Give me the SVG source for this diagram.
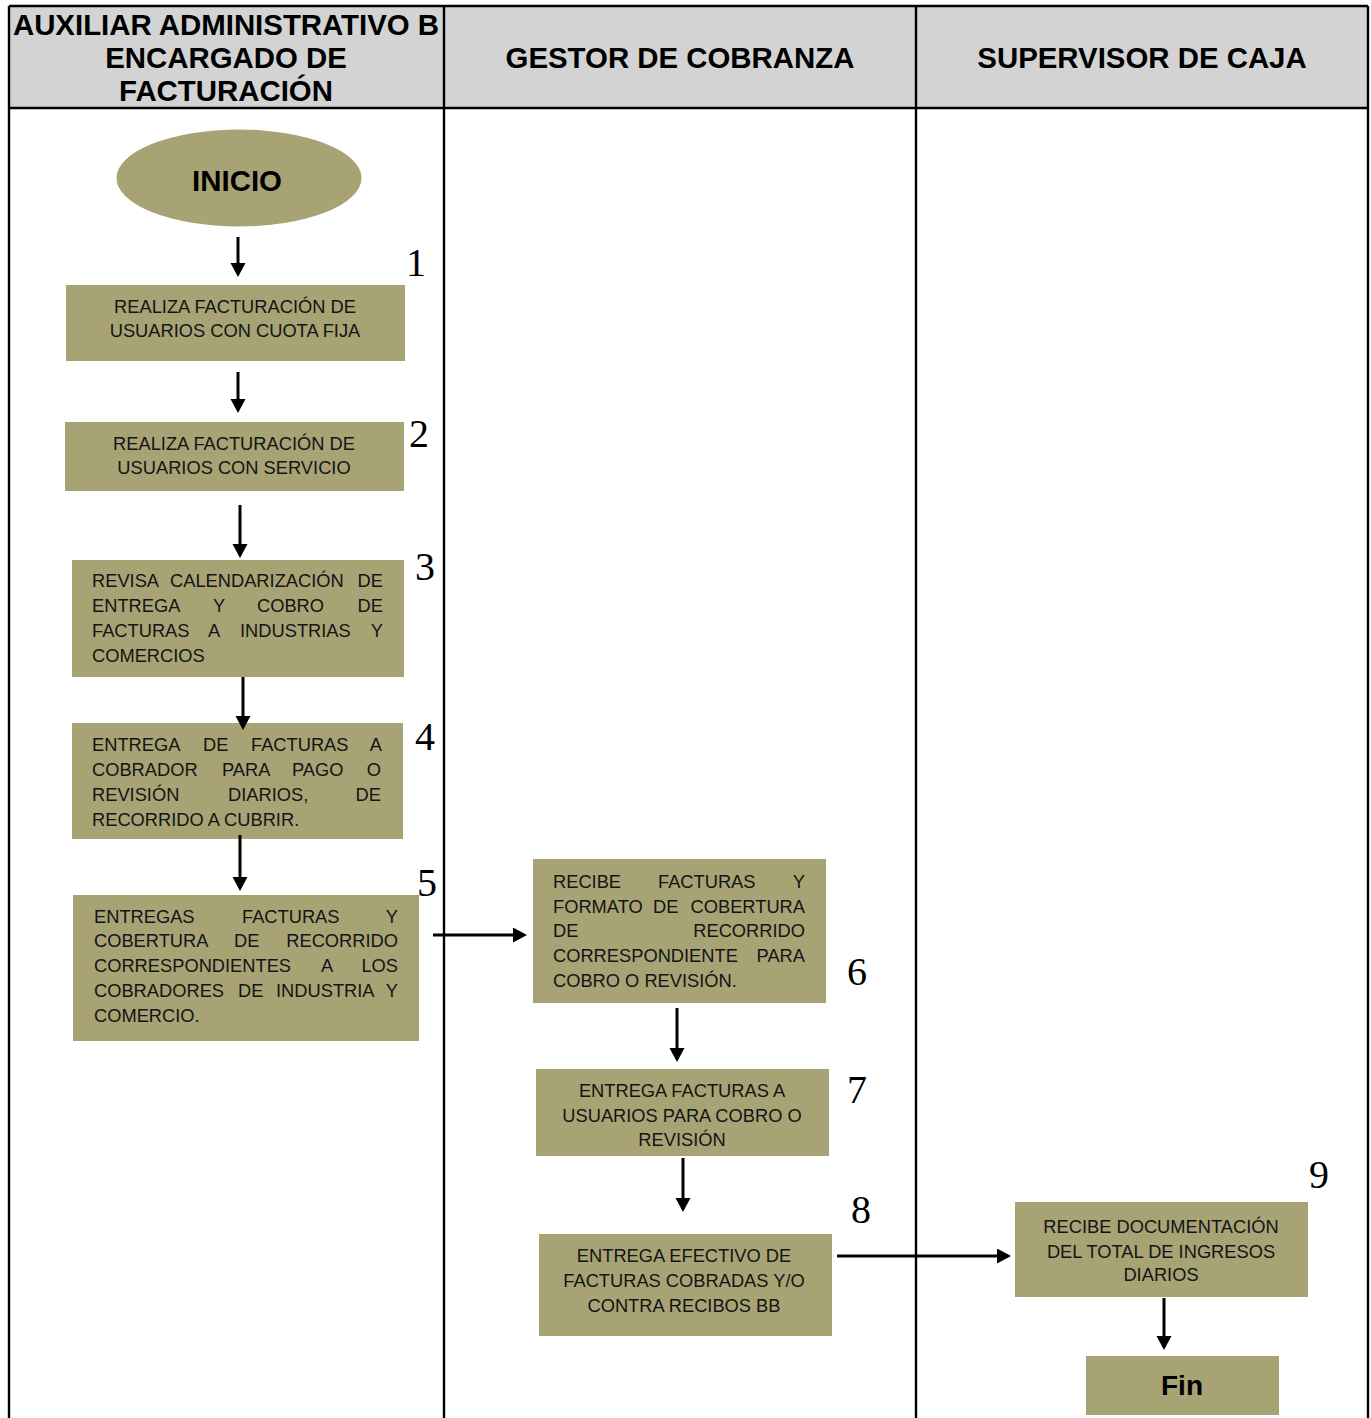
<svg xmlns="http://www.w3.org/2000/svg" width="1371" height="1418" viewBox="0 0 1371 1418">
<defs>
<style>
.box{fill:#a7a375}
.t{font-family:"Liberation Sans",Arial,sans-serif;font-size:18.3px;fill:#141414}
.c{text-anchor:middle}
.e{text-anchor:end}
.h{font-family:"Liberation Sans",Arial,sans-serif;font-size:29.4px;font-weight:bold;fill:#000;text-anchor:middle}
.n{font-family:"Liberation Serif","Times New Roman",serif;font-size:40px;fill:#000;text-anchor:middle}
.grid{stroke:#000;stroke-width:2.4;fill:none}
.arr{stroke:#000;stroke-width:3;fill:none;marker-end:url(#ah)}
</style>
<marker id="ah" markerUnits="userSpaceOnUse" markerWidth="15" markerHeight="16" refX="11" refY="7.5" orient="auto">
<path d="M0,0 L14,7.5 L0,15 Z" fill="#000"/>
</marker>
</defs>
<rect width="1371" height="1418" fill="#fff"/>
<g id="lanes">
<rect x="9" y="6" width="1359" height="102" fill="#d3d3d3"/>
<path class="grid" d="M9,6 H1368 M9,108 H1368 M9,6 V1418 M444,6 V1418 M916,6 V1418 M1368,6 V1418"/>
<text class="h" x="226" y="35">AUXILIAR ADMINISTRATIVO B</text>
<text class="h" x="226" y="68">ENCARGADO DE</text>
<text class="h" x="226" y="101">FACTURACIÓN</text>
<text class="h" x="680" y="68">GESTOR DE COBRANZA</text>
<text class="h" x="1142" y="68">SUPERVISOR DE CAJA</text>
</g>
<g id="inicio">
<ellipse class="box" cx="239" cy="178" rx="122.5" ry="48.5"/>
<text class="h" x="237" y="191">INICIO</text>
</g>
<g id="n1">
<rect class="box" x="66" y="285" width="339" height="76"/>
<text class="t c" x="235" y="313">REALIZA FACTURACIÓN DE</text>
<text class="t c" x="235" y="337">USUARIOS CON CUOTA FIJA</text>
<text class="n" x="416" y="276">1</text>
</g>
<g id="n2">
<rect class="box" x="65" y="422" width="339" height="69"/>
<text class="t c" x="234" y="450">REALIZA FACTURACIÓN DE</text>
<text class="t c" x="234" y="474">USUARIOS CON SERVICIO</text>
<text class="n" x="419" y="447">2</text>
</g>
<g id="n3">
<rect class="box" x="72" y="560" width="332" height="117"/>
<text class="t" y="587"><tspan x="92">REVISA</tspan><tspan x="170">CALENDARIZACIÓN</tspan><tspan class="e" x="383">DE</tspan></text>
<text class="t" y="612"><tspan x="92">ENTREGA</tspan><tspan x="213">Y</tspan><tspan x="257">COBRO</tspan><tspan class="e" x="383">DE</tspan></text>
<text class="t" y="637"><tspan x="92">FACTURAS</tspan><tspan x="208">A</tspan><tspan x="240">INDUSTRIAS</tspan><tspan class="e" x="383">Y</tspan></text>
<text class="t" x="92" y="662">COMERCIOS</text>
<text class="n" x="425" y="580">3</text>
</g>
<g id="n4">
<rect class="box" x="72" y="723" width="331" height="116"/>
<text class="t" y="751"><tspan x="92">ENTREGA</tspan><tspan x="203">DE</tspan><tspan x="251">FACTURAS</tspan><tspan class="e" x="382">A</tspan></text>
<text class="t" y="776"><tspan x="92">COBRADOR</tspan><tspan x="222">PARA</tspan><tspan x="292">PAGO</tspan><tspan class="e" x="381">O</tspan></text>
<text class="t" y="801"><tspan x="92">REVISIÓN</tspan><tspan x="228">DIARIOS,</tspan><tspan class="e" x="381">DE</tspan></text>
<text class="t" x="92" y="826">RECORRIDO A CUBRIR.</text>
<text class="n" x="425" y="750">4</text>
</g>
<g id="n5">
<rect class="box" x="73" y="895" width="346" height="146"/>
<text class="t" y="923"><tspan x="94">ENTREGAS</tspan><tspan x="242">FACTURAS</tspan><tspan class="e" x="398">Y</tspan></text>
<text class="t" y="947"><tspan x="94">COBERTURA</tspan><tspan x="234">DE</tspan><tspan class="e" x="398">RECORRIDO</tspan></text>
<text class="t" y="972"><tspan x="94">CORRESPONDIENTES</tspan><tspan x="321">A</tspan><tspan class="e" x="398">LOS</tspan></text>
<text class="t" y="997"><tspan x="94">COBRADORES</tspan><tspan x="238">DE</tspan><tspan x="276">INDUSTRIA</tspan><tspan class="e" x="398">Y</tspan></text>
<text class="t" x="94" y="1022">COMERCIO.</text>
<text class="n" x="427" y="896">5</text>
</g>
<g id="n6">
<rect class="box" x="533" y="859" width="293" height="144"/>
<text class="t" y="888"><tspan x="553">RECIBE</tspan><tspan x="658">FACTURAS</tspan><tspan class="e" x="805">Y</tspan></text>
<text class="t" y="913"><tspan x="553">FORMATO</tspan><tspan x="653">DE</tspan><tspan class="e" x="805">COBERTURA</tspan></text>
<text class="t" y="937"><tspan x="553">DE</tspan><tspan class="e" x="805">RECORRIDO</tspan></text>
<text class="t" y="962"><tspan x="553">CORRESPONDIENTE</tspan><tspan class="e" x="805">PARA</tspan></text>
<text class="t" x="553" y="987">COBRO O REVISIÓN.</text>
<text class="n" x="857" y="985">6</text>
</g>
<g id="n7">
<rect class="box" x="536" y="1069" width="293" height="87"/>
<text class="t c" x="682" y="1097">ENTREGA FACTURAS A</text>
<text class="t c" x="682" y="1122">USUARIOS PARA COBRO O</text>
<text class="t c" x="682" y="1146">REVISIÓN</text>
<text class="n" x="857" y="1103">7</text>
</g>
<g id="n8">
<rect class="box" x="539" y="1234" width="293" height="102"/>
<text class="t c" x="684" y="1262">ENTREGA EFECTIVO DE</text>
<text class="t c" x="684" y="1287">FACTURAS COBRADAS Y/O</text>
<text class="t c" x="684" y="1312">CONTRA RECIBOS BB</text>
<text class="n" x="861" y="1223">8</text>
</g>
<g id="n9">
<rect class="box" x="1015" y="1202" width="293" height="95"/>
<text class="t c" x="1161" y="1233">RECIBE DOCUMENTACIÓN</text>
<text class="t c" x="1161" y="1258">DEL TOTAL DE INGRESOS</text>
<text class="t c" x="1161" y="1281">DIARIOS</text>
<text class="n" x="1319" y="1188">9</text>
</g>
<g id="fin">
<rect class="box" x="1086" y="1356" width="193" height="59"/>
<text class="h" x="1182" y="1395" style="font-size:28px">Fin</text>
</g>
<g id="connectors">
<line class="arr" x1="238" y1="237" x2="238" y2="274"/>
<line class="arr" x1="238" y1="372" x2="238" y2="410"/>
<line class="arr" x1="240" y1="505" x2="240" y2="555"/>
<line class="arr" x1="243" y1="677" x2="243" y2="727"/>
<line class="arr" x1="240" y1="835" x2="240" y2="888"/>
<line class="arr" x1="433" y1="935" x2="524" y2="935"/>
<line class="arr" x1="677" y1="1008" x2="677" y2="1059"/>
<line class="arr" x1="683" y1="1158" x2="683" y2="1209"/>
<line class="arr" x1="837" y1="1256" x2="1008" y2="1256"/>
<line class="arr" x1="1164" y1="1298" x2="1164" y2="1347"/>
</g>
</svg>
